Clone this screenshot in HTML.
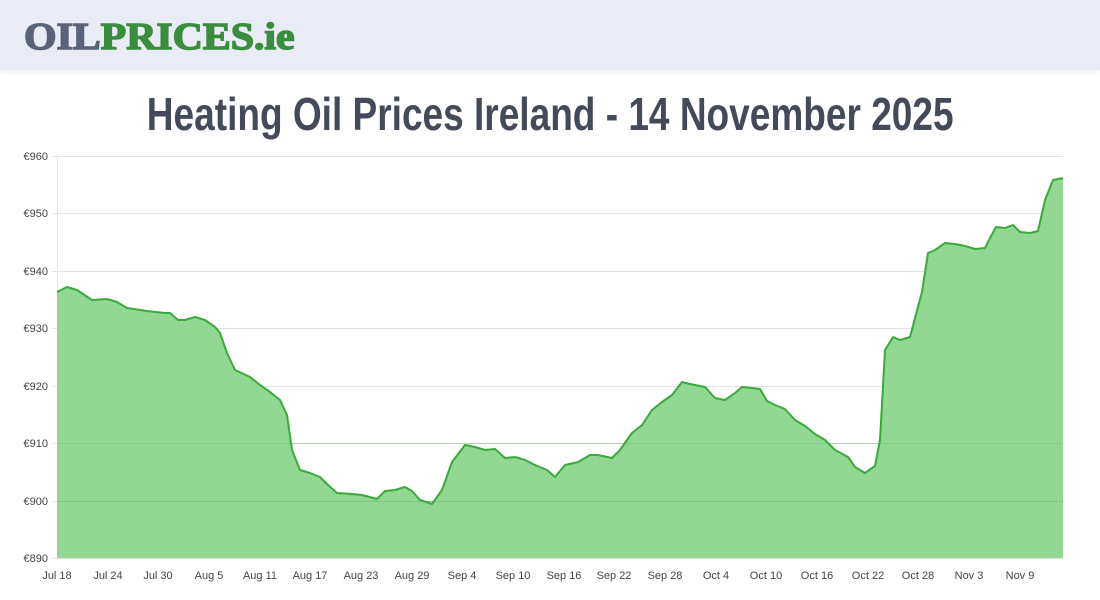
<!DOCTYPE html>
<html><head><meta charset="utf-8"><style>
html,body{margin:0;padding:0;width:1100px;height:600px;background:#fff;overflow:hidden}
.hdr{position:absolute;left:0;top:0;width:1100px;height:70px;background:#e9ecf4;box-shadow:0 2px 6px rgba(0,0,0,0.08)}
.logo{position:absolute;left:24px;top:17px;font-family:"Liberation Serif",serif;font-weight:bold;font-size:38px;letter-spacing:0px;line-height:40px;transform:scaleX(1.1);transform-origin:left;-webkit-text-stroke:1.5px currentColor}
.title{position:absolute;left:0;width:1100px;top:86px;text-align:center;font-family:"Liberation Sans",sans-serif;font-weight:bold;font-size:46px;color:#434b5a;line-height:56px;transform:scaleX(0.805);transform-origin:551px 0}
svg{position:absolute;left:0;top:0}
text{font-family:"Liberation Sans",sans-serif;font-size:11px;fill:#444}
</style></head><body>
<div class="hdr"><div class="logo"><span style="color:#5a6378">OIL</span><span style="color:#3a8c3e">PRICES.ie</span></div></div>
<div class="title">Heating Oil Prices Ireland - 14 November 2025</div>
<svg width="1100" height="600">
<g stroke="#e3e3e3" stroke-width="1">
<line x1="52" y1="156.5" x2="1063" y2="156.5"/><line x1="52" y1="213.5" x2="1063" y2="213.5"/>
<line x1="52" y1="271.5" x2="1063" y2="271.5"/><line x1="52" y1="328.5" x2="1063" y2="328.5"/>
<line x1="52" y1="386.5" x2="1063" y2="386.5"/><line x1="52" y1="443.5" x2="1063" y2="443.5"/>
<line x1="52" y1="501.5" x2="1063" y2="501.5"/><line x1="52" y1="558.5" x2="1063" y2="558.5"/>
<line x1="57.5" y1="156" x2="57.5" y2="558"/>
</g>
<g text-anchor="end">
<text x="48" y="160">€960</text><text x="48" y="217">€950</text><text x="48" y="275">€940</text>
<text x="48" y="332">€930</text><text x="48" y="390">€920</text><text x="48" y="447">€910</text>
<text x="48" y="505">€900</text><text x="48" y="562">€890</text>
</g>
<g text-anchor="middle">
<text x="57" y="579">Jul 18</text><text x="108" y="579">Jul 24</text><text x="158" y="579">Jul 30</text>
<text x="209" y="579">Aug 5</text><text x="260" y="579">Aug 11</text><text x="310" y="579">Aug 17</text>
<text x="361" y="579">Aug 23</text><text x="412" y="579">Aug 29</text><text x="462" y="579">Sep 4</text>
<text x="513" y="579">Sep 10</text><text x="564" y="579">Sep 16</text><text x="614" y="579">Sep 22</text>
<text x="665" y="579">Sep 28</text><text x="716" y="579">Oct 4</text><text x="766" y="579">Oct 10</text>
<text x="817" y="579">Oct 16</text><text x="868" y="579">Oct 22</text><text x="918" y="579">Oct 28</text>
<text x="969" y="579">Nov 3</text><text x="1020" y="579">Nov 9</text>
</g>
<polygon fill="#92d792" points="57,558 57,292 67,287 77,290 92,300 107,299 117,302 127,308 147,311 165,313 170,313 178,320 185,320 195,317 205,320 215,327 220,333 227,353 235,370 250,377 260,385 270,392 280,400 287,415 292,450 300,470 310,473 320,477 327,484 337,493 352,494 362,495 377,499 385,491 395,490 405,487 412,491 420,500 432,504 442,490 452,462 465,445 475,447 485,450 495,449 505,458 515,457 525,460 535,465 547,470 555,477 565,465 578,462 590,455 598,455 612,458 620,450 632,433 642,425 652,410 662,402 672,395 682,382 690,384 705,387 715,398 725,400 735,393 742,387 752,388 760,389 767,401 775,405 785,409 795,420 805,426 815,434 825,440 835,450 848,457 855,467 865,473 875,466 880,440 885,350 893,337 900,340 910,337 915,318 922,292 928,253 935,250 945,243 955,244 965,246 975,249 985,248 990,238 996,227 1005,228 1013,225 1020,232 1030,233 1038,231 1045,200 1053,180 1063,178 1063,558"/>
<line x1="57" y1="501.5" x2="1063" y2="501.5" stroke="#7fc47f" stroke-width="1"/>
<line x1="57" y1="443.5" x2="1063" y2="443.5" stroke="#7fc47f" stroke-width="1" opacity="0.5"/>
<polyline fill="none" stroke="#3aaa3a" stroke-width="2" stroke-linejoin="round" points="57,292 67,287 77,290 92,300 107,299 117,302 127,308 147,311 165,313 170,313 178,320 185,320 195,317 205,320 215,327 220,333 227,353 235,370 250,377 260,385 270,392 280,400 287,415 292,450 300,470 310,473 320,477 327,484 337,493 352,494 362,495 377,499 385,491 395,490 405,487 412,491 420,500 432,504 442,490 452,462 465,445 475,447 485,450 495,449 505,458 515,457 525,460 535,465 547,470 555,477 565,465 578,462 590,455 598,455 612,458 620,450 632,433 642,425 652,410 662,402 672,395 682,382 690,384 705,387 715,398 725,400 735,393 742,387 752,388 760,389 767,401 775,405 785,409 795,420 805,426 815,434 825,440 835,450 848,457 855,467 865,473 875,466 880,440 885,350 893,337 900,340 910,337 915,318 922,292 928,253 935,250 945,243 955,244 965,246 975,249 985,248 990,238 996,227 1005,228 1013,225 1020,232 1030,233 1038,231 1045,200 1053,180 1063,178"/>
</svg>
</body></html>
